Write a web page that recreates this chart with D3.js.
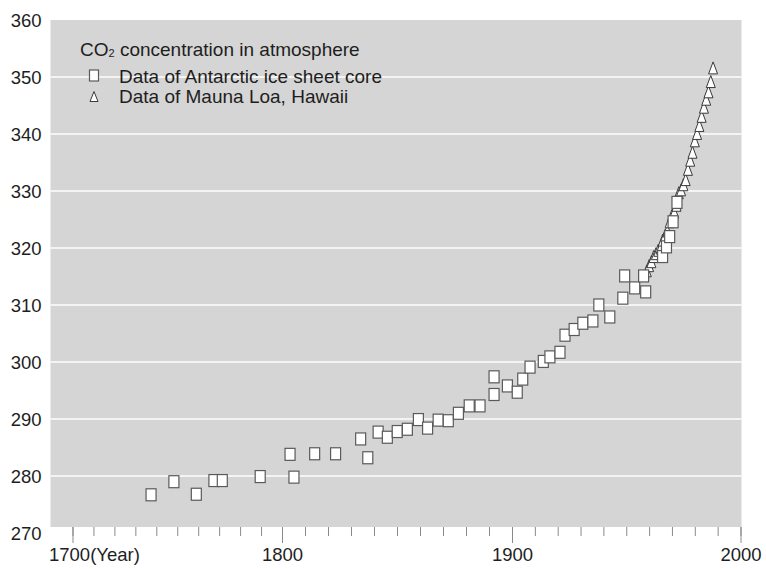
<!DOCTYPE html>
<html><head><meta charset="utf-8">
<script src="https://cdn.jsdelivr.net/npm/d3@7"></script>
<style>
html,body{margin:0;padding:0;background:#fff;}
svg{display:block;font-family:"Liberation Sans",Arial,Helvetica,sans-serif;}
</style></head>
<body>
<svg id="chart" width="766" height="569"></svg>
<script>
// ---- data ----
const iceYears  = [1737.5,1748.4,1759.1,1767.5,1771.5,1789.6,1803.5,1805.2,1814.2,1823.3,1834.2,1837.3,1841.8,1845.8,1850.1,1854.5,1859.3,1863.3,1867.9,1872.3,1876.7,1881.4,1886.1,1892.2,1892.2,1898.0,1902.3,1904.7,1907.9,1913.7,1916.6,1921.0,1923.2,1927.2,1931.0,1935.4,1938.0,1942.8,1948.5,1949.3,1953.7,1957.6,1958.5,1965.9,1967.6,1969.0,1970.5,1972.2];
const iceValues = [276.7,279.0,276.8,279.2,279.2,279.9,283.8,279.8,283.9,283.9,286.5,283.2,287.7,286.8,287.8,288.2,289.9,288.4,289.8,289.7,291.0,292.3,292.3,297.4,294.3,295.8,294.7,297.0,299.1,300.1,300.9,301.7,304.7,305.7,306.8,307.2,310.0,307.9,311.2,315.1,313.0,315.1,312.3,318.5,320.2,322.0,324.6,328.0];
const mlYears   = [1959,1960,1961,1962,1963,1964,1965,1966,1967,1968,1969,1970,1971,1972,1973,1974,1975,1976,1977,1978,1979,1980,1981,1982,1983,1984,1985,1986,1987,1988];
const mlValues  = [316.0,316.9,317.6,318.5,319.0,319.6,320.0,321.4,322.2,323.0,324.6,325.7,326.3,327.5,329.7,330.2,331.1,332.0,333.8,335.4,336.8,338.8,340.1,341.5,343.1,344.7,346.1,347.4,349.2,351.6];
const yTicks    = [270,280,290,300,310,320,330,340,350,360];
const xMajor    = [1700,1800,1900,2000];
const xLabels   = ["1700(Year)","1800","1900","2000"];
const legendTitle = ["CO","2"," concentration in atmosphere"];
const legendItems = ["Data of Antarctic ice sheet core","Data of Mauna Loa, Hawaii"];

// ---- layout ----
const svg = d3.select("#chart");
const plotL = 50.5, plotR = 741.5, plotT = 20, plotB = 527;
const x = d3.scaleLinear().domain([1700,1800,1900,2000]).range([72.5,282,512,740.5]);
const y = d3.scaleLinear().domain([270,360]).range([533,20]);
const FONT = 18.5, TXT = "#1e1e1e";

svg.append("rect").attr("x",plotL).attr("y",plotT)
  .attr("width",plotR-plotL).attr("height",plotB-plotT).attr("fill","#d5d5d5");

// gridlines
svg.append("g").selectAll("line").data(yTicks.filter(v=>v>270 && v<360)).join("line")
  .attr("x1",plotL).attr("x2",plotR).attr("y1",d=>y(d)).attr("y2",d=>y(d))
  .attr("stroke","#f4f4f4").attr("stroke-width",2);

// y labels
svg.append("g").selectAll("text").data(yTicks).join("text")
  .attr("x",41.5).attr("y",d=>y(d)).attr("dy","0.36em")
  .attr("text-anchor","end").attr("font-size",FONT).attr("fill",TXT)
  .text(d=>d);

// x axis ticks
const minorAxis = d3.axisBottom(x).tickValues(d3.range(1700,2001,10)).tickSize(9).tickFormat("");
const gMinor = svg.append("g").attr("transform",`translate(0,${plotB})`).call(minorAxis);
gMinor.select(".domain").remove();
gMinor.selectAll("line").attr("stroke","#8a8a8a");
const majorAxis = d3.axisBottom(x).tickValues(xMajor).tickSize(16).tickPadding(4)
  .tickFormat((d,i)=>xLabels[i]);
const gMajor = svg.append("g").attr("transform",`translate(0,${plotB})`).call(majorAxis);
gMajor.select(".domain").remove();
gMajor.selectAll("line").attr("stroke","#8a8a8a");
gMajor.selectAll("text").attr("font-size",FONT).attr("fill",TXT)
  .attr("font-family","Liberation Sans, Arial, sans-serif")
  .attr("dy","0.75em")
  .attr("text-anchor",(d,i)=>i===0?"start":"middle")
  .attr("x",(d,i)=>i===0?-24:0);

// Mauna Loa triangles
const triPath = (w,h)=>`M0,${-h/2}L${w/2},${h/2}L${-w/2},${h/2}Z`;
svg.append("g").selectAll("path").data(mlYears).join("path")
  .attr("transform",(d,i)=>`translate(${x(d)},${y(mlValues[i])})`)
  .attr("d",triPath(9,12)).attr("fill","#fff").attr("stroke","#3a3a3a").attr("stroke-width",1);

// ice core squares
svg.append("g").selectAll("rect").data(iceYears).join("rect")
  .attr("x",d=>x(d)-5).attr("y",(d,i)=>y(iceValues[i])-6)
  .attr("width",10).attr("height",12)
  .attr("fill","#fff").attr("stroke","#5a5a5a").attr("stroke-width",1.2);

// legend
const lt = svg.append("text").attr("x",80).attr("y",56).attr("font-size",19).attr("fill",TXT);
lt.append("tspan").text(legendTitle[0]);
lt.append("tspan").attr("font-size",11).attr("dy",1).text(legendTitle[1]);
lt.append("tspan").attr("dy",-1).text(legendTitle[2]);
const legY = [82.5,103];
svg.append("rect").attr("x",89.5).attr("y",legY[0]-12.5).attr("width",9).attr("height",11)
  .attr("fill","#fff").attr("stroke","#5a5a5a").attr("stroke-width",1.2);
svg.append("path").attr("transform",`translate(94,${legY[1]-6.5})`).attr("d",triPath(8,10))
  .attr("fill","#fff").attr("stroke","#3a3a3a").attr("stroke-width",1);
svg.append("g").selectAll("text").data(legendItems).join("text")
  .attr("x",119).attr("y",(d,i)=>legY[i]).attr("font-size",19).attr("fill",TXT).text(d=>d);
</script>
</body></html>
